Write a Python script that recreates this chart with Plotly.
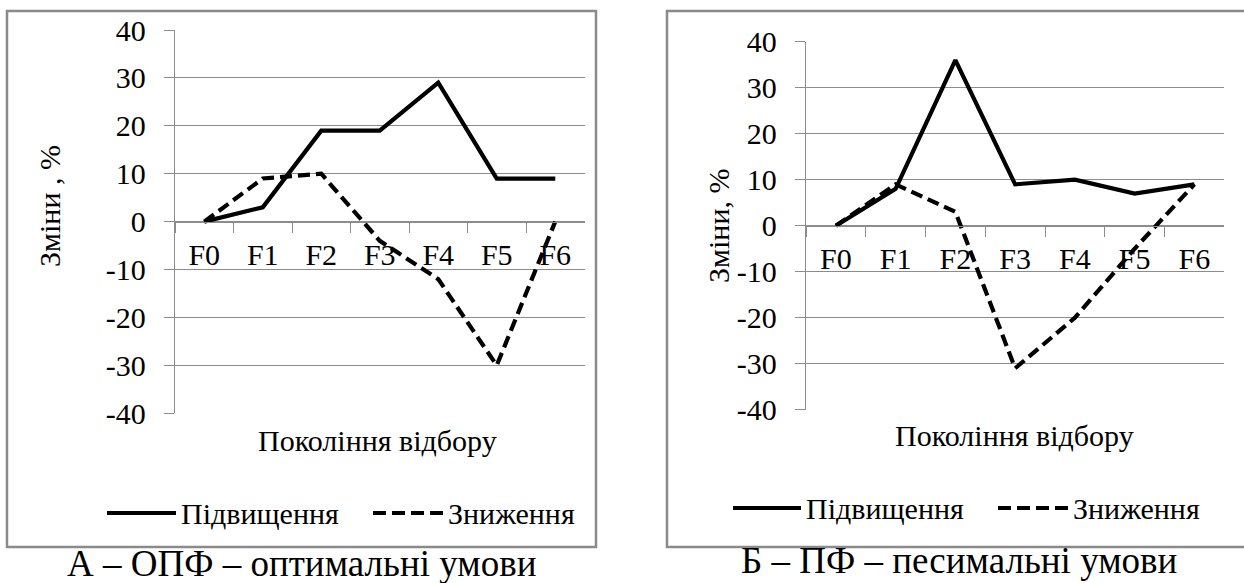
import plotly.graph_objects as go

W, H = 1244, 583

categories = ["F0", "F1", "F2", "F3", "F4", "F5", "F6"]
a_up = [0, 3, 19, 19, 29, 9, 9]
a_down = [0, 9, 10, -4, -12, -30, 0]
b_up = [0, 8, 36, 9, 10, 7, 9]
b_down = [0, 9, 3, -31, -20, -5, 9]
y_ticks = [40, 30, 20, 10, 0, -10, -20, -30, -40]
name_up = "Підвищення"
name_down = "Зниження"
x_title = "Покоління відбору"
y_title_a = "Зміни , %"
y_title_b = "Зміни, %"
caption_a = "А – ОПФ – оптимальні умови"
caption_b = "Б – ПФ – песимальні умови"

FONT = "Liberation Serif"
FS = 30
GRID = "#8c8c8c"
BORDER = "#8a8a8a"


def px(x):
    return x / W


def py(y):
    return 1 - y / H


fig = go.Figure()

for (xa, ya, up, down) in [("x", "y", a_up, a_down), ("x2", "y2", b_up, b_down)]:
    fig.add_trace(go.Scatter(x=categories, y=up, mode="lines", name=name_up,
                             line=dict(color="black", width=4.2),
                             xaxis=xa, yaxis=ya, showlegend=False))
    fig.add_trace(go.Scatter(x=categories, y=down, mode="lines", name=name_down,
                             line=dict(color="black", width=4.2, dash="12px,6px"),
                             xaxis=xa, yaxis=ya, showlegend=False))

panels = {
    "a": dict(x0=175, x1=584.5, y0=30, y1=413.3),
    "b": dict(x0=806, x1=1224.3, y0=41.7, y1=409.7),
}


def xaxis_cfg(p):
    zero_y = p["y0"] + (p["y1"] - p["y0"]) / 2
    return dict(
        type="category", categoryorder="array", categoryarray=categories,
        range=[-0.5, 6.5], domain=[px(p["x0"]), px(p["x1"])],
        anchor="free", position=py(zero_y), automargin=False,
        showline=True, linecolor=GRID, linewidth=1.3,
        ticks="outside", ticklen=10, tickcolor=GRID, tickwidth=1.3,
        tickson="boundaries", showgrid=False, zeroline=False,
        tickfont=dict(family=FONT, size=FS, color="black"),
        ticklabelstandoff=6, fixedrange=True,
    )


def yaxis_cfg(p, xref):
    return dict(
        range=[-40, 40], domain=[py(p["y1"]), py(p["y0"])],
        anchor=xref, tickvals=y_ticks, ticktext=[str(v) for v in y_ticks],
        automargin=False,
        showgrid=True, gridcolor=GRID, gridwidth=1.3,
        showline=True, linecolor=GRID, linewidth=1.3,
        ticks="outside", ticklen=10, tickcolor=GRID, tickwidth=1.3,
        zeroline=False,
        tickfont=dict(family=FONT, size=FS, color="black"),
        ticklabelstandoff=12, fixedrange=True,
    )


shapes = []
annotations = []

# panel borders
shapes.append(dict(type="rect", xref="paper", yref="paper",
                   x0=px(7), x1=px(596), y0=py(547), y1=py(11),
                   line=dict(color=BORDER, width=2.5), layer="below"))
shapes.append(dict(type="rect", xref="paper", yref="paper",
                   x0=px(667), x1=px(1260), y0=py(547), y1=py(11),
                   line=dict(color=BORDER, width=2.5), layer="below"))

# custom legends (line samples + labels)
legend_specs = [
    dict(y=513, solid=(107, 176), t1=179, dashed=(373, 447), t2=446),
    dict(y=508, solid=(733, 801), t1=804, dashed=(998, 1070), t2=1071),
]
for lg in legend_specs:
    shapes.append(dict(type="line", xref="paper", yref="paper",
                       x0=px(lg["solid"][0]), x1=px(lg["solid"][1]),
                       y0=py(lg["y"]), y1=py(lg["y"]),
                       line=dict(color="black", width=4.2)))
    shapes.append(dict(type="line", xref="paper", yref="paper",
                       x0=px(lg["dashed"][0]), x1=px(lg["dashed"][1]),
                       y0=py(lg["y"]), y1=py(lg["y"]),
                       line=dict(color="black", width=4.2, dash="13px,6px")))
    annotations.append(dict(text=name_up, xref="paper", yref="paper",
                            x=px(lg["t1"]), y=py(lg["y"]), xanchor="left", yanchor="middle",
                            showarrow=False, font=dict(family=FONT, size=FS, color="black")))
    annotations.append(dict(text=name_down, xref="paper", yref="paper",
                            x=px(lg["t2"]), y=py(lg["y"]), xanchor="left", yanchor="middle",
                            showarrow=False, font=dict(family=FONT, size=FS, color="black")))

# axis titles
for (txt, x, y) in [(x_title, 377, 440), (x_title, 1014, 435)]:
    annotations.append(dict(text=txt, xref="paper", yref="paper", x=px(x), y=py(y),
                            xanchor="center", yanchor="middle", showarrow=False,
                            font=dict(family=FONT, size=FS, color="black")))
for (txt, x, y) in [(y_title_a, 50, 206), (y_title_b, 718, 226)]:
    annotations.append(dict(text=txt, xref="paper", yref="paper", x=px(x), y=py(y),
                            xanchor="center", yanchor="middle", showarrow=False, textangle=-90,
                            font=dict(family=FONT, size=FS, color="black")))

# captions
for (txt, x, y) in [(caption_a, 301, 563), (caption_b, 959, 560)]:
    annotations.append(dict(text=txt, xref="paper", yref="paper", x=px(x), y=py(y),
                            xanchor="center", yanchor="middle", showarrow=False,
                            font=dict(family=FONT, size=37, color="black")))

fig.update_layout(
    width=W, height=H,
    margin=dict(l=0, r=0, t=0, b=0, autoexpand=False),
    paper_bgcolor="white", plot_bgcolor="white",
    xaxis=xaxis_cfg(panels["a"]), yaxis=yaxis_cfg(panels["a"], "x"),
    xaxis2=xaxis_cfg(panels["b"]), yaxis2=yaxis_cfg(panels["b"], "x2"),
    shapes=shapes, annotations=annotations,
    showlegend=False,
)

fig.write_html("out.html", include_plotlyjs=True, config={"displayModeBar": False})
